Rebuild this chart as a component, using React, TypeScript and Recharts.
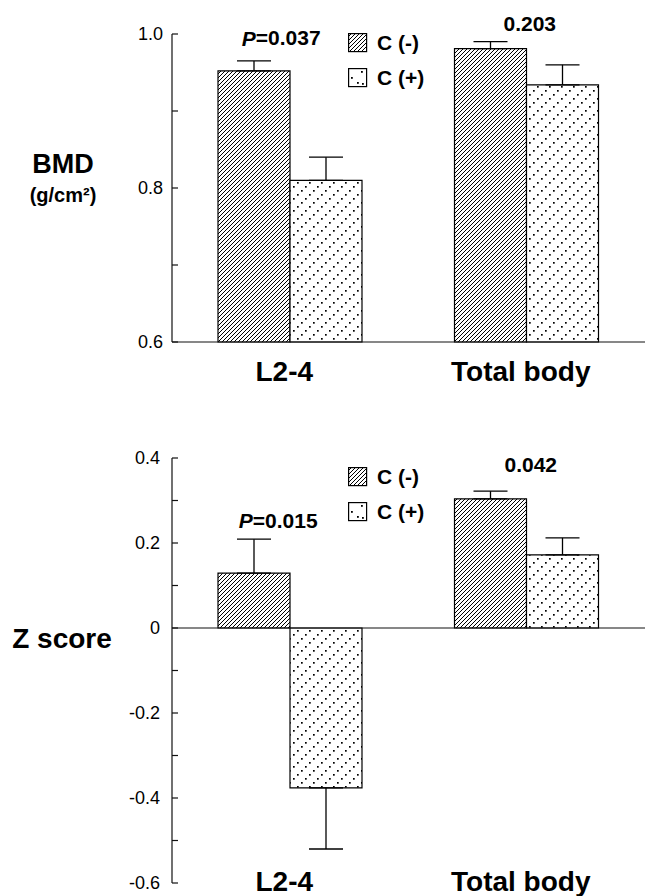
import React from 'react';
import { BarChart, Bar, XAxis, YAxis, ErrorBar, ReferenceLine, ReferenceDot, Legend } from 'recharts';

const FONT = '"Liberation Sans", Arial, Helvetica, sans-serif';

const categories = ['L2-4', 'Total body'];
const seriesNames = ['C (-)', 'C (+)'];

// BMD panel
const bmdCNeg = [0.952, 0.981];
const bmdCNegErr = [0.013, 0.009];
const bmdCPos = [0.810, 0.934];
const bmdCPosErr = [0.030, 0.026];
const bmdTicks = [0.6, 0.7, 0.8, 0.9, 1.0];
const bmdTickLabels = ['0.6', '', '0.8', '', '1.0'];
const bmdPLabels = ['P=0.037', '0.203'];
const bmdPLabelY = [0.995, 1.014];

// Z score panel
const zCNeg = [0.129, 0.304];
const zCNegErr = [0.080, 0.018];
const zCPos = [-0.376, 0.172];
const zCPosErr = [0.144, 0.040];
const zTicks = [-0.6, -0.5, -0.4, -0.3, -0.2, -0.1, 0, 0.1, 0.2, 0.3, 0.4];
const zTickLabels = ['-0.6', '', '-0.4', '', '-0.2', '', '0', '', '0.2', '', '0.4'];
const zPLabels = ['P=0.015', '0.042'];
const zPLabelY = [0.254, 0.384];

const buildData = (neg: number[], negErr: number[], pos: number[], posErr: number[]) =>
  categories.map((c, i) => ({ category: c, cNeg: neg[i], cNegErr: negErr[i], cPos: pos[i], cPosErr: posErr[i] }));

const bmdData = buildData(bmdCNeg, bmdCNegErr, bmdCPos, bmdCPosErr);
const zData = buildData(zCNeg, zCNegErr, zCPos, zCPosErr);

const errNeg = (d: any) => (d.cNeg >= 0 ? [0, d.cNegErr] : [d.cNegErr, 0]);
const errPos = (d: any) => (d.cPos >= 0 ? [0, d.cPosErr] : [d.cPosErr, 0]);

const HatchPattern = ({ id }: { id: string }) => (
  <pattern id={id} patternUnits="userSpaceOnUse" width={4} height={4}>
    <rect width={4} height={4} fill="#fff" />
    <path d="M-1,1 l2,-2 M0,4 l4,-4 M3,5 l2,-2" stroke="#000" strokeWidth={1} />
  </pattern>
);

const Patterns = ({ id }: { id: string }) => (
  <defs>
    <HatchPattern id={`hatch-${id}`} />
    <pattern id={`dots-${id}`} patternUnits="userSpaceOnUse" width={12} height={12}>
      <rect width={12} height={12} fill="#fff" />
      <rect x={1} y={10} width={1.7} height={1.7} fill="#000" />
      <rect x={5} y={6} width={1.7} height={1.7} fill="#000" />
      <rect x={9} y={2} width={1.7} height={1.7} fill="#000" />
    </pattern>
  </defs>
);

const makeYTick = (ticks: number[], labels: string[], gap: number) => (props: any) => {
  const { x, y, payload } = props;
  const i = ticks.findIndex((t) => Math.abs(t - payload.value) < 1e-9);
  const label = i >= 0 ? labels[i] : '';
  return (
    <g>
      <line x1={x} x2={x + 6} y1={y} y2={y} stroke="#111" strokeWidth={1.2} />
      {label !== '' && (
        <text x={x - gap} y={y} textAnchor="end" dominantBaseline="central" fontSize={18} fontFamily={FONT} fill="#000">
          {label}
        </text>
      )}
    </g>
  );
};

const makeXTick = (dy: number) => (props: any) => (
  <text x={props.x - 6} y={props.y + dy} textAnchor="middle" fontSize={28} fontWeight="bold" fontFamily={FONT} fill="#000">
    {props.payload.value}
  </text>
);

const annotationShape = (label: string, dx: number) => (props: any) => {
  const { cx, cy } = props;
  const isP = label.startsWith('P=');
  return (
    <text x={cx + dx} y={cy} textAnchor="middle" dominantBaseline="central" fontSize={21} fontWeight="bold" fontFamily={FONT} fill="#000">
      {isP ? (
        <>
          <tspan fontStyle="italic">P</tspan>
          {label.slice(1)}
        </>
      ) : (
        label
      )}
    </text>
  );
};

const LegendContent = ({ pid }: { pid: string }) => (
  <div style={{ fontFamily: FONT, fontWeight: 'bold', fontSize: 21, color: '#000' }}>
    {seriesNames.map((n: string, i: number) => (
      <div key={n} style={{ display: 'flex', alignItems: 'center', height: 35 }}>
        <svg width={20} height={20} style={{ display: 'block' }}>
          {i === 0 ? (
            <>
              <defs>
                <HatchPattern id={`lg-hatch-${pid}`} />
              </defs>
              <rect x={0.6} y={0.6} width={18} height={18} fill={`url(#lg-hatch-${pid})`} stroke="#000" strokeWidth={1.2} />
            </>
          ) : (
            <>
              <rect x={0.6} y={0.6} width={18} height={18} fill="#fff" stroke="#000" strokeWidth={1.2} />
              <rect x={13} y={3} width={1.8} height={1.8} fill="#000" />
              <rect x={3} y={9} width={1.8} height={1.8} fill="#000" />
              <rect x={9} y={14} width={1.8} height={1.8} fill="#000" />
              <rect x={14} y={15} width={1.8} height={1.8} fill="#000" />
            </>
          )}
        </svg>
        <span style={{ marginLeft: 9, lineHeight: '21px' }}>{n}</span>
      </div>
    ))}
  </div>
);

const BmdTitle = () => (
  <g>
    <text x={63} y={173} textAnchor="middle" fontSize={27} fontWeight="bold" fontFamily={FONT} fill="#000">BMD</text>
    <text x={63} y={202} textAnchor="middle" fontSize={20} fontWeight="bold" fontFamily={FONT} fill="#000">(g/cm²)</text>
  </g>
);

const ZTitle = () => (
  <g>
    <text x={62} y={248} textAnchor="middle" fontSize={28} fontWeight="bold" fontFamily={FONT} fill="#000">Z score</text>
  </g>
);

export default function App() {
  return (
    <div style={{ position: 'absolute', left: 0, top: 0, width: 645, height: 896, background: '#fff' }}>
      <div style={{ position: 'absolute', left: 0, top: 0 }}>
        <BarChart
          width={645}
          height={400}
          data={bmdData}
          margin={{ top: 34, right: 0, bottom: 0, left: 0 }}
          barSize={72}
          barGap={0}
          style={{ fontFamily: FONT }}
        >
          <Patterns id="bmd" />
          <XAxis
            dataKey="category"
            height={58}
            tickSize={0}
            tickMargin={0}
            interval={0}
            axisLine={{ stroke: '#111', strokeWidth: 1.2 }}
            tickLine={false}
            tick={makeXTick(39)}
          />
          <YAxis
            width={172}
            domain={[0.6, 1.0]}
            ticks={bmdTicks}
            interval={0}
            tickSize={0}
            tickMargin={0}
            axisLine={{ stroke: '#111', strokeWidth: 1.2 }}
            tickLine={false}
            tick={makeYTick(bmdTicks, bmdTickLabels, 9)}
            label={() => <BmdTitle />}
          />
          <Bar dataKey="cNeg" name={seriesNames[0]} fill="url(#hatch-bmd)" stroke="#000" strokeWidth={1.2} isAnimationActive={false}>
            <ErrorBar dataKey={errNeg} width={17} stroke="#000" strokeWidth={1.3} direction="y" isAnimationActive={false} />
          </Bar>
          <Bar dataKey="cPos" name={seriesNames[1]} fill="url(#dots-bmd)" stroke="#000" strokeWidth={1.2} isAnimationActive={false}>
            <ErrorBar dataKey={errPos} width={17} stroke="#000" strokeWidth={1.3} direction="y" isAnimationActive={false} />
          </Bar>
          {categories.map((c, i) => (
            <ReferenceDot
              key={c}
              x={c}
              y={bmdPLabelY[i]}
              r={0}
              ifOverflow="visible"
              shape={annotationShape(bmdPLabels[i], i === 0 ? -9 : 3)}
            />
          ))}
          <Legend
            layout="vertical"
            align="center"
            verticalAlign="middle"
            content={() => <LegendContent pid="bmd" />}
            wrapperStyle={{ left: 348, top: 25, width: 120, height: 70 }}
          />
        </BarChart>
      </div>
      <div style={{ position: 'absolute', left: 0, top: 400 }}>
        <BarChart
          width={645}
          height={496}
          data={zData}
          margin={{ top: 58, right: 0, bottom: 0, left: 0 }}
          barSize={72}
          barGap={0}
          style={{ fontFamily: FONT }}
        >
          <Patterns id="z" />
          <XAxis
            dataKey="category"
            height={13}
            tickSize={0}
            tickMargin={0}
            interval={0}
            axisLine={false}
            tickLine={false}
            tick={makeXTick(8)}
          />
          <YAxis
            width={172}
            domain={[-0.6, 0.4]}
            ticks={zTicks}
            interval={0}
            tickSize={0}
            tickMargin={0}
            axisLine={{ stroke: '#111', strokeWidth: 1.2 }}
            tickLine={false}
            tick={makeYTick(zTicks, zTickLabels, 12)}
            label={() => <ZTitle />}
          />
          <ReferenceLine y={0} stroke="#111" strokeWidth={1.2} />
          <Bar dataKey="cNeg" name={seriesNames[0]} fill="url(#hatch-z)" stroke="#000" strokeWidth={1.2} isAnimationActive={false}>
            <ErrorBar dataKey={errNeg} width={17} stroke="#000" strokeWidth={1.3} direction="y" isAnimationActive={false} />
          </Bar>
          <Bar dataKey="cPos" name={seriesNames[1]} fill="url(#dots-z)" stroke="#000" strokeWidth={1.2} isAnimationActive={false}>
            <ErrorBar dataKey={errPos} width={17} stroke="#000" strokeWidth={1.3} direction="y" isAnimationActive={false} />
          </Bar>
          {categories.map((c, i) => (
            <ReferenceDot
              key={c}
              x={c}
              y={zPLabelY[i]}
              r={0}
              ifOverflow="visible"
              shape={annotationShape(zPLabels[i], i === 0 ? -12 : 4)}
            />
          ))}
          <Legend
            layout="vertical"
            align="center"
            verticalAlign="middle"
            content={() => <LegendContent pid="z" />}
            wrapperStyle={{ left: 348, top: 59, width: 120, height: 70 }}
          />
        </BarChart>
      </div>
    </div>
  );
}
